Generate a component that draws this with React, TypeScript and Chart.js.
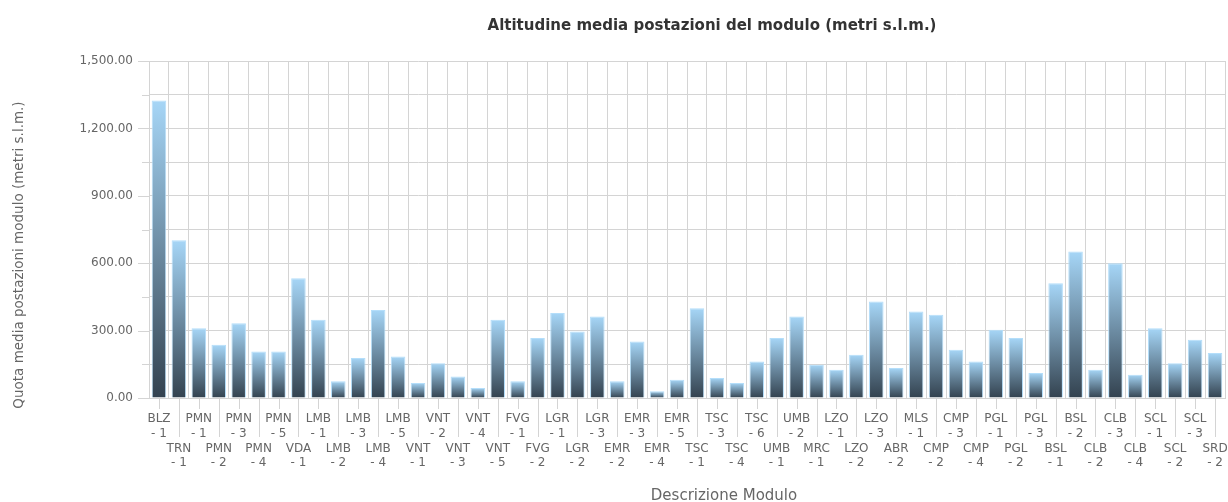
import React, { useEffect, useRef } from "react";
import { Chart, registerables } from "chart.js";

Chart.register(...registerables);

const chartTitle = "Altitudine media postazioni del modulo (metri s.l.m.)";
const xAxisTitle = "Descrizione Modulo";
const yAxisTitle = "Quota media postazioni modulo (metri s.l.m.)";

const regions = [
  "BLZ", "TRN", "PMN", "PMN", "PMN", "PMN", "PMN", "VDA", "LMB", "LMB",
  "LMB", "LMB", "LMB", "VNT", "VNT", "VNT", "VNT", "VNT", "FVG", "FVG",
  "LGR", "LGR", "LGR", "EMR", "EMR", "EMR", "EMR", "TSC", "TSC", "TSC",
  "TSC", "UMB", "UMB", "MRC", "LZO", "LZO", "LZO", "ABR", "MLS", "CMP",
  "CMP", "CMP", "PGL", "PGL", "PGL", "BSL", "BSL", "CLB", "CLB", "CLB",
  "SCL", "SCL", "SCL", "SRD",
];

const moduleNumbers = [
  1, 1, 1, 2, 3, 4, 5, 1, 1, 2,
  3, 4, 5, 1, 2, 3, 4, 5, 1, 2,
  1, 2, 3, 2, 3, 4, 5, 1, 3, 4,
  6, 1, 2, 1, 1, 2, 3, 2, 1, 2,
  3, 4, 1, 2, 3, 1, 2, 2, 3, 4,
  1, 2, 3, 2,
];

const altitudes = [
  1324, 702, 311, 237, 333, 207, 207, 533, 348, 74,
  178, 392, 185, 67, 155, 96, 44, 348, 74, 267,
  378, 296, 363, 74, 252, 30, 81, 400, 89, 67,
  163, 267, 363, 148, 126, 193, 429, 133, 385, 370,
  215, 163, 304, 267, 111, 511, 652, 126, 600, 104,
  311, 155, 259, 200,
];

const yMin = 0;
const yMax = 1500;
const yStep = 150;
const yLabelStep = 300;

const FONT = "'DejaVu Sans', 'Liberation Sans', sans-serif";
const GRID = "#d4d4d4";
const TEXT = "#666666";
const TITLE_COLOR = "#333333";
const BAR_TOP = "#a6d6f7";
const BAR_BOTTOM = "#33424f";
const BAR_BORDER = "#b4defa";

const labels = regions.map((r, i) =>
  i % 2 === 0 ? [r, "- " + moduleNumbers[i]] : ["", "", r, "- " + moduleNumbers[i]]
);

const decorPlugin = {
  id: "decor",
  afterDraw(chart: any) {
    const { ctx, chartArea } = chart;
    const x = chart.scales.x;
    const y = chart.scales.y;
    ctx.save();
    ctx.strokeStyle = GRID;
    ctx.lineWidth = 1;
    ctx.beginPath();
    x.ticks.forEach((_t: any, i: number) => {
      const px = Math.round(x.getPixelForTick(i)) + 0.5;
      const len = i % 2 === 0 ? 11 : 39;
      ctx.moveTo(px, chartArea.bottom);
      ctx.lineTo(px, chartArea.bottom + len);
    });
    y.ticks.forEach((t: any, i: number) => {
      const py = Math.round(y.getPixelForTick(i)) + 0.5;
      const len = t.value % yLabelStep === 0 ? 11 : 7;
      ctx.moveTo(chartArea.left - len, py);
      ctx.lineTo(chartArea.left, py);
    });
    ctx.stroke();

    // chart title
    ctx.fillStyle = TITLE_COLOR;
    ctx.font = "bold 15px " + FONT;
    ctx.textAlign = "center";
    ctx.textBaseline = "alphabetic";
    ctx.fillText(chartTitle, 712, 30);

    // x axis title
    ctx.fillStyle = TEXT;
    ctx.font = "15px " + FONT;
    ctx.fillText(xAxisTitle, 724, 500);

    // y axis title
    ctx.translate(19, 255);
    ctx.rotate(-Math.PI / 2);
    ctx.font = "13.5px " + FONT;
    ctx.textBaseline = "middle";
    ctx.fillText(yAxisTitle, 0, 0);
    ctx.restore();
  },
};

export default function App() {
  const canvasRef = useRef<HTMLCanvasElement | null>(null);

  useEffect(() => {
    if (!canvasRef.current) return;
    const chart = new Chart(canvasRef.current, {
      type: "bar",
      data: {
        labels,
        datasets: [
          {
            data: altitudes,
            backgroundColor: (c: any) => {
              const ch = c.chart;
              if (!ch.chartArea || c.raw == null) return BAR_TOP;
              const ys = ch.scales.y;
              const top = ys.getPixelForValue(c.raw);
              const base = ys.getPixelForValue(0);
              const g = ch.ctx.createLinearGradient(0, top, 0, base);
              g.addColorStop(0, BAR_TOP);
              g.addColorStop(1, BAR_BOTTOM);
              return g;
            },
            borderColor: BAR_BORDER,
            borderWidth: 1,
            categoryPercentage: 1,
            barPercentage: 0.73,
          },
        ],
      },
      options: {
        animation: false,
        responsive: true,
        maintainAspectRatio: false,
        layout: { padding: { top: 61, right: 3, bottom: 32, left: 0 } },
        plugins: {
          legend: { display: false },
          tooltip: { enabled: false },
          title: { display: false },
        },
        scales: {
          x: {
            type: "category",
            offset: true,
            afterFit: (scale: any) => {
              scale.height = 72;
              scale.paddingLeft = 0;
              scale.paddingRight = 0;
            },
            grid: { color: GRID, lineWidth: 1, drawTicks: false, offset: true },
            border: { color: GRID },
            ticks: {
              autoSkip: false,
              maxRotation: 0,
              minRotation: 0,
              padding: 14,
              color: TEXT,
              font: { family: FONT, size: 12, lineHeight: 1.22 },
            },
          },
          y: {
            min: yMin,
            max: yMax,
            afterFit: (scale: any) => {
              scale.width = 149;
            },
            grid: { color: GRID, lineWidth: 1, drawTicks: false },
            border: { color: GRID },
            ticks: {
              stepSize: yStep,
              padding: 16,
              color: TEXT,
              font: { family: FONT, size: 12 },
              callback: (v: any) =>
                Number(v) % yLabelStep === 0
                  ? Number(v).toLocaleString("en-US", { minimumFractionDigits: 2, maximumFractionDigits: 2 })
                  : "",
            },
          },
        },
      },
      plugins: [decorPlugin],
    });
    return () => chart.destroy();
  }, []);

  return (
    <div style={{ position: "absolute", left: 0, top: 0, width: 1228, height: 502, background: "#fff" }}>
      <canvas ref={canvasRef} />
    </div>
  );
}
